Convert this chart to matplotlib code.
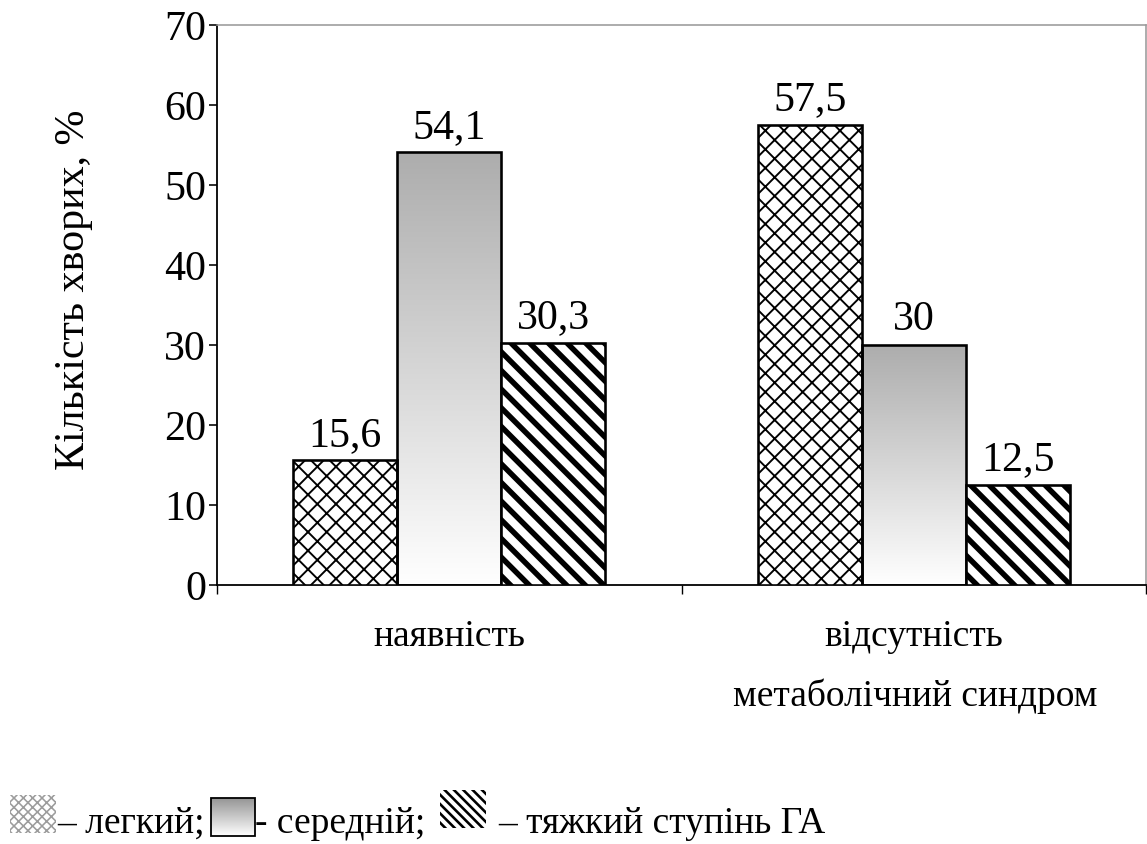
import numpy as np
import matplotlib
matplotlib.use("Agg")
import matplotlib.pyplot as plt
from matplotlib.patches import Rectangle
from matplotlib.colors import LinearSegmentedColormap

# Data
categories = ["наявність", "відсутність"]
light = [15.6, 57.5]
medium = [54.1, 30.0]
severe = [30.3, 12.5]
value_labels = {
    "light": ["15,6", "57,5"],
    "medium": ["54,1", "30"],
    "severe": ["30,3", "12,5"],
}
y_ticks = [0, 10, 20, 30, 40, 50, 60, 70]
x_title = "метаболічний синдром"
y_title = "Кількість хворих, %"
legend_texts = ["– легкий;", "- середній;", "– тяжкий ступінь ГА"]

plt.rcParams["font.family"] = ["Liberation Serif", "DejaVu Serif"]

# Rendering resolution (controls hatch pitch); sizes below are given in pixels
DPI = 112
W, H = 1147, 844


def pt(px):
    """Convert a pixel size to points at the working resolution."""
    return px * 72.0 / DPI


fig = plt.figure(figsize=(W / DPI, H / DPI), dpi=DPI)
ax = fig.add_axes([217 / W, 1 - 585 / H, (1146 - 217) / W, (585 - 25) / H])

grad_cmap = LinearSegmentedColormap.from_list("g", ["#ffffff", "#adadad"])
x = np.arange(len(categories))
bw = 0.224


def hatched_bar(xpos, h, hatch, hlw):
    with plt.rc_context({"hatch.linewidth": hlw}):
        b = ax.bar(xpos, h, bw, facecolor="white", edgecolor="black",
                   linewidth=pt(2.6), hatch=hatch, zorder=3)[0]
    if hasattr(b, "set_hatch_linewidth"):
        b.set_hatch_linewidth(hlw)
    return b


grad = np.linspace(0, 1, 256).reshape(-1, 1)
for i in range(len(categories)):
    hatched_bar(x[i] - bw, light[i], "xx", pt(1.9))
    # gradient-filled middle bar
    x0 = x[i] - bw / 2
    ax.imshow(grad, cmap=grad_cmap, origin="lower", aspect="auto",
              extent=(x0, x0 + bw, 0, medium[i]), zorder=2,
              interpolation="bilinear")
    ax.bar(x[i], medium[i], bw, facecolor="none", edgecolor="black",
           linewidth=pt(2.6), zorder=3)
    hatched_bar(x[i] + bw, severe[i], "\\\\", pt(5.5))

    for dx, val, lab in [(-bw, light[i], value_labels["light"][i]),
                         (0, medium[i], value_labels["medium"][i]),
                         (bw, severe[i], value_labels["severe"][i])]:
        ax.text(x[i] + dx, val + 3.1, lab, ha="center", va="center",
                fontsize=pt(42))

ax.set_xlim(-0.5, 1.5)
ax.set_ylim(0, 70)
ax.set_yticks(y_ticks)
ax.set_yticklabels([str(t) for t in y_ticks], fontsize=pt(42))
ax.tick_params(axis="y", direction="out", length=pt(8), width=pt(1.6),
               pad=pt(3))
ax.set_xticks(x)
ax.set_xticklabels(categories, fontsize=pt(37.5))
ax.tick_params(axis="x", which="major", length=0, pad=pt(34))
ax.set_xticks([-0.5, 0.5, 1.5], minor=True)
ax.tick_params(axis="x", which="minor", direction="out", length=pt(9),
               width=pt(1.4))

for s in ["left", "bottom"]:
    ax.spines[s].set_color("black")
    ax.spines[s].set_linewidth(pt(1.8))
for s in ["top", "right"]:
    ax.spines[s].set_color("#9a9a9a")
    ax.spines[s].set_linewidth(pt(1.6))

ax.set_ylabel(y_title, fontsize=pt(42))
ax.yaxis.set_label_coords(-(217 - 93) / (1146 - 217), (585 - 290) / (585 - 25))
fig.text(915 / W, 1 - 696 / H, x_title, ha="center", va="center",
         fontsize=pt(37.5))

# Legend row drawn in pixel coordinates on an overlay
ov = fig.add_axes([0, 0, 1, 1])
ov.patch.set_alpha(0)

p1 = Rectangle((10, 795), 46, 38, facecolor="white", edgecolor="#9c9c9c",
               linewidth=0, hatch="xxxx")
ov.add_patch(p1)
if hasattr(p1, "set_hatch_linewidth"):
    p1.set_hatch_linewidth(pt(1.6))

ov.imshow(grad, cmap=LinearSegmentedColormap.from_list("g2", ["#ffffff", "#959595"]),
          origin="lower", aspect="auto", extent=(211, 255, 836, 798),
          interpolation="bilinear", zorder=2)
ov.add_patch(Rectangle((211, 798), 44, 38, facecolor="none",
                       edgecolor="black", linewidth=pt(1.8), zorder=3))

p3 = Rectangle((440, 790), 46, 38, facecolor="white", edgecolor="black",
               linewidth=0, hatch="\\\\\\\\")
ov.add_patch(p3)
if hasattr(p3, "set_hatch_linewidth"):
    p3.set_hatch_linewidth(pt(2.6))

ov.set_xlim(0, W)
ov.set_ylim(H, 0)
ov.axis("off")

ov.text(57, 833, legend_texts[0], ha="left", va="baseline", fontsize=pt(37.5))
ov.text(255, 833, legend_texts[1], ha="left", va="baseline", fontsize=pt(37.5))
ov.text(498, 833, legend_texts[2], ha="left", va="baseline", fontsize=pt(37.5))

fig.savefig("out.png", dpi=DPI)
